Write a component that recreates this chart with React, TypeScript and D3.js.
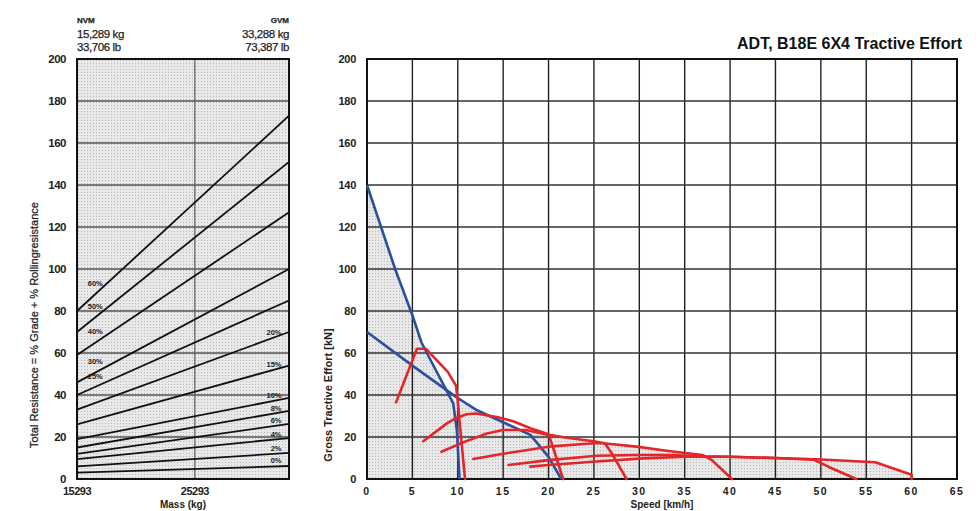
import React from 'react';
import * as d3 from 'd3';

// left panel: total resistance vs mass
const gradeLabels = ['60%', '50%', '40%', '30%', '25%', '20%', '15%', '10%', '8%', '6%', '4%', '2%', '0%'];
const resistanceAtNvm = [80, 70, 59, 46, 40, 33, 26, 19, 15, 12, 9.5, 6, 3];
const resistanceAtGvm = [173, 151, 127, 100, 85, 70, 54, 38.6, 32.4, 26.2, 19.5, 12.4, 6.2];
const massDomain = [15289, 33288];
const massTicks = [15293, 25293];
const resistanceTicks = [0, 20, 40, 60, 80, 100, 120, 140, 160, 180, 200];

// right panel: tractive effort vs speed
const speedTicks = [0, 5, 10, 15, 20, 25, 30, 35, 40, 45, 50, 55, 60, 65];
const effortTicks = [0, 20, 40, 60, 80, 100, 120, 140, 160, 180, 200];

const blueCurves: [number, number][][] = [
  [[0, 140], [3.1, 100], [5, 78], [6, 65], [7.2, 55], [8.9, 41], [9.5, 36], [9.9, 23], [10.2, 0]],
  [[0, 70], [5, 54], [10, 38.5], [12, 33], [15, 27], [18, 21], [20, 10.5], [21.4, 0]],
];

const redCurves: [number, number][][] = [
  [[3.2, 36.5], [5.5, 62], [6.5, 62], [7.8, 56], [8.9, 51], [9.8, 44.5], [10, 37], [10.4, 18], [10.8, 0]],
  [[6.2, 18], [8.8, 26.5], [9.8, 29], [11, 30.8], [12, 31.2], [14.3, 29.5], [16.1, 27.5], [18, 24.2], [20, 21.3], [20.5, 15], [21.6, 0]],
  [[8.2, 13], [10.8, 17.8], [13.2, 21.7], [15, 23.3], [17.5, 23.3], [20, 21], [22.4, 19.4], [25, 18], [26.2, 17], [27, 12], [28.6, 0]],
  [[11.7, 9.5], [15, 12], [20, 15.4], [25, 17], [26, 17], [29.7, 15.4], [33.4, 13.2], [37, 11.4], [38, 9], [40.2, 0]],
  [[15.6, 6.7], [20, 9], [25.3, 11.1], [29.7, 11.4], [33.4, 11.4], [37, 10.8], [40, 10.6], [45, 10], [49.2, 9.2], [51, 5.5], [53.9, 0]],
  [[18, 5.9], [20, 6.7], [25.3, 8.3], [30.4, 9.8], [35, 10.6], [40, 10.6], [45, 10], [49.5, 9.4], [56, 8], [60, 2], [60, 0]],
];

const envelope: [number, number][] = [
  [0, 140], [3.1, 100], [5, 78], [6, 65], [7.2, 55], [8.9, 41], [9.6, 37.5], [12, 33], [15, 27], [18, 22],
  [20, 21.3], [22.4, 19.4], [25, 18], [26, 17], [29.7, 15.4], [33.4, 13.2], [37, 11.4], [40, 10.6],
  [45, 10], [49.5, 9.4], [56, 8], [60, 2], [60, 0], [0, 0],
];

const font = '"Liberation Sans", Arial, sans-serif';

export default function App() {
  const W = 979;
  const H = 511;

  const xm = d3.scaleLinear().domain(massDomain).range([77, 289]);
  const yl = d3.scaleLinear().domain([0, 200]).range([479, 59]);
  const xs = d3.scaleLinear().domain([0, 65]).range([367, 957]);
  const yr = d3.scaleLinear().domain([0, 200]).range([479, 59]);

  const curve = d3.line<[number, number]>().x(d => xs(d[0])).y(d => yr(d[1]));
  const fillPath = d3.line<[number, number]>().x(d => xs(d[0])).y(d => yr(d[1]))(envelope) + 'Z';

  const valueAt = (i: number, m: number) => {
    const t = (m - massDomain[0]) / (massDomain[1] - massDomain[0]);
    return resistanceAtNvm[i] + (resistanceAtGvm[i] - resistanceAtNvm[i]) * t;
  };

  return (
    <svg width={W} height={H} style={{ position: 'absolute', left: 0, top: 0 }} fontFamily={font}>
      <defs>
        <pattern id="dots" width="3" height="3" patternUnits="userSpaceOnUse">
          <rect width="3" height="3" fill="#e8e8e8" />
          <rect width="1" height="1" fill="#b8b8b8" />
        </pattern>
      </defs>
      <rect width={W} height={H} fill="#fff" />

      {/* ---- left panel ---- */}
      <g fill="#222" stroke="#222" strokeWidth={0.25}>
        <text x={xm.range()[0]} y={23} fontSize={8} fontWeight="bold">NVM</text>
        <text x={xm.range()[0]} y={38} fontSize={11.5} letterSpacing={-0.4}>15,289 kg</text>
        <text x={xm.range()[0]} y={51} fontSize={11.5} letterSpacing={-0.4}>33,706 lb</text>
        <text x={xm.range()[1]} y={23} fontSize={8} fontWeight="bold" textAnchor="end">GVM</text>
        <text x={xm.range()[1]} y={38} fontSize={11.5} letterSpacing={-0.4} textAnchor="end">33,288 kg</text>
        <text x={xm.range()[1]} y={51} fontSize={11.5} letterSpacing={-0.4} textAnchor="end">73,387 lb</text>
      </g>

      <rect x={xm.range()[0]} y={yl(200)} width={xm.range()[1] - xm.range()[0]} height={yl(0) - yl(200)} fill="url(#dots)" />
      {resistanceTicks.slice(1, -1).map(v => (
        <line key={v} x1={xm.range()[0]} x2={xm.range()[1]} y1={yl(v)} y2={yl(v)} stroke="#555" strokeWidth={1.3} />
      ))}
      <line x1={xm(massTicks[1])} x2={xm(massTicks[1])} y1={yl(0)} y2={yl(200)} stroke="#666" strokeWidth={1.3} />
      {resistanceAtNvm.map((v, i) => (
        <line key={i} x1={xm(massDomain[0])} y1={yl(v)} x2={xm(massDomain[1])} y2={yl(resistanceAtGvm[i])} stroke="#111" strokeWidth={1.8} />
      ))}
      {gradeLabels.map((g, i) => {
        const left = i < 5;
        const m = left ? 16200 : 32650;
        const mc = left ? 16900 : 31900;
        return (
          <text key={g} x={xm(m)} y={yl(valueAt(i, mc)) - (left ? 8 : 3)} fontSize={7.5} fontWeight="bold" textAnchor={left ? 'start' : 'end'} fill="#222">{g}</text>
        );
      })}
      <rect x={xm.range()[0]} y={yl(200)} width={xm.range()[1] - xm.range()[0]} height={yl(0) - yl(200)} fill="none" stroke="#111" strokeWidth={2} />
      {resistanceTicks.map(v => (
        <text key={v} x={66} y={yl(v) + 4} fontSize={11.5} fontWeight="bold" textAnchor="end" letterSpacing={-0.5} fill="#222">{v}</text>
      ))}
      {massTicks.map(v => (
        <text key={v} x={xm(v)} y={495} fontSize={11} fontWeight="bold" textAnchor="middle" letterSpacing={-0.5} fill="#222">{v}</text>
      ))}
      <text x={(xm.range()[0] + xm.range()[1]) / 2} y={508} fontSize={10} fontWeight="bold" textAnchor="middle" fill="#222">Mass (kg)</text>
      <text transform={`translate(38,${325}) rotate(-90)`} fontSize={11} textAnchor="middle" fill="#222" stroke="#222" strokeWidth={0.25}>Total Resistance = % Grade + % Rollingresistance</text>

      {/* ---- right panel ---- */}
      <text x={962} y={49} fontSize={16} fontWeight="bold" textAnchor="end" fill="#111">ADT, B18E 6X4 Tractive Effort</text>
      <path d={fillPath} fill="url(#dots)" />
      {speedTicks.slice(1, -1).map(v => (
        <line key={v} x1={xs(v)} x2={xs(v)} y1={yr(0)} y2={yr(200)} stroke="#222" strokeWidth={1.4} />
      ))}
      {effortTicks.slice(1, -1).map(v => (
        <line key={v} x1={xs(0)} x2={xs(65)} y1={yr(v)} y2={yr(v)} stroke="#333" strokeWidth={1.4} />
      ))}
      <rect x={xs(0)} y={yr(200)} width={xs(65) - xs(0)} height={yr(0) - yr(200)} fill="none" stroke="#111" strokeWidth={2} />
      {blueCurves.map((c, i) => (
        <path key={i} d={curve(c) || ''} fill="none" stroke="#2d4f9e" strokeWidth={2.6} strokeLinejoin="round" />
      ))}
      {redCurves.map((c, i) => (
        <path key={i} d={curve(c) || ''} fill="none" stroke="#e3262a" strokeWidth={2.6} strokeLinejoin="round" strokeLinecap="round" />
      ))}
      {effortTicks.map(v => (
        <text key={v} x={356} y={yr(v) + 4} fontSize={11} fontWeight="bold" textAnchor="end" letterSpacing={-0.3} fill="#222">{v}</text>
      ))}
      {speedTicks.map(v => (
        <text key={v} x={xs(v)} y={495} fontSize={10.5} fontWeight="bold" textAnchor="middle" letterSpacing={1.5} fill="#222">{v}</text>
      ))}
      <text x={(xs(0) + xs(65)) / 2} y={508} fontSize={10} fontWeight="bold" textAnchor="middle" fill="#222">Speed [km/h]</text>
      <text transform={`translate(332,${395}) rotate(-90)`} fontSize={11} fontWeight="bold" textAnchor="middle" fill="#222">Gross Tractive Effort [kN]</text>
    </svg>
  );
}
